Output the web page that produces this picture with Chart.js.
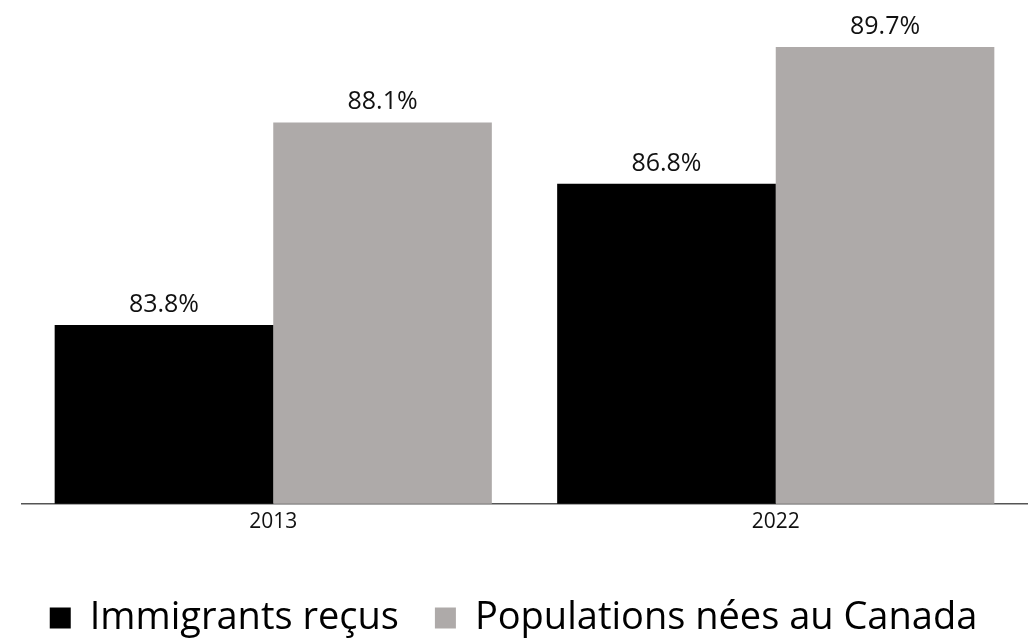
<!DOCTYPE html>
<html>
<head>
<meta charset="utf-8">
<script src="https://cdn.jsdelivr.net/npm/chart.js@4"></script>
<style>
  html, body { margin: 0; padding: 0; background: #fff; }
  #wrap { width: 1035px; height: 642px; }
</style>
</head>
<body>
<div id="wrap"><canvas id="myChart"></canvas></div>
<script>
// data
const years = ['2013', '2022'];
const immigrants = [83.8, 86.8];
const canadiens = [88.1, 89.7];
const seriesNames = ['Immigrants reçus', 'Populations nées au Canada'];

// value labels above bars
const barLabels = {
  id: 'barLabels',
  afterDatasetsDraw(chart) {
    const ctx = chart.ctx;
    ctx.save();
    ctx.font = '25px "Open Sans"';
    ctx.fillStyle = '#111';
    ctx.textAlign = 'center';
    ctx.textBaseline = 'alphabetic';
    chart.data.datasets.forEach((ds, i) => {
      chart.getDatasetMeta(i).data.forEach((bar, j) => {
        ctx.fillText(ds.data[j].toFixed(1) + '%', bar.x, bar.y - 13);
      });
    });
    ctx.restore();
  }
};

const ctx = document.getElementById('myChart');
const myChart = new Chart(ctx, {
  type: 'bar',
  data: {
    labels: years,
    datasets: [{
      label: seriesNames[0],
      data: immigrants,
      backgroundColor: '#000000',
      categoryPercentage: 0.87,
      barPercentage: 1.0
    }, {
      label: seriesNames[1],
      data: canadiens,
      backgroundColor: '#aeaaa9',
      categoryPercentage: 0.87,
      barPercentage: 1.0
    }]
  },
  options: {
    responsive: true,
    maintainAspectRatio: false,
    animation: false,
    layout: { padding: { left: 0, right: 8, top: 33, bottom: -5 } },
    plugins: {
      tooltip: { enabled: false },
      legend: {
        position: 'bottom',
        labels: {
          color: '#000',
          font: { family: '"Open Sans"', size: 38 },
          boxWidth: 21,
          boxHeight: 21,
          padding: 36
        }
      }
    },
    scales: {
      x: {
        grid: { display: false, drawTicks: false },
        border: { display: true, color: '#555', width: 1.5 },
        ticks: { color: '#111', font: { family: '"Open Sans"', size: 21 }, padding: 6 },
        title: { display: true, text: '', font: { size: 10 }, padding: { top: 5, bottom: 5 } }
      },
      y: {
        min: 80,
        max: 90,
        grid: { display: false, drawTicks: false },
        border: { display: false },
        ticks: { display: false },
        afterFit: (s) => { s.width = 22; }
      }
    }
  },
  plugins: [barLabels]
});
</script>
</body>
</html>
